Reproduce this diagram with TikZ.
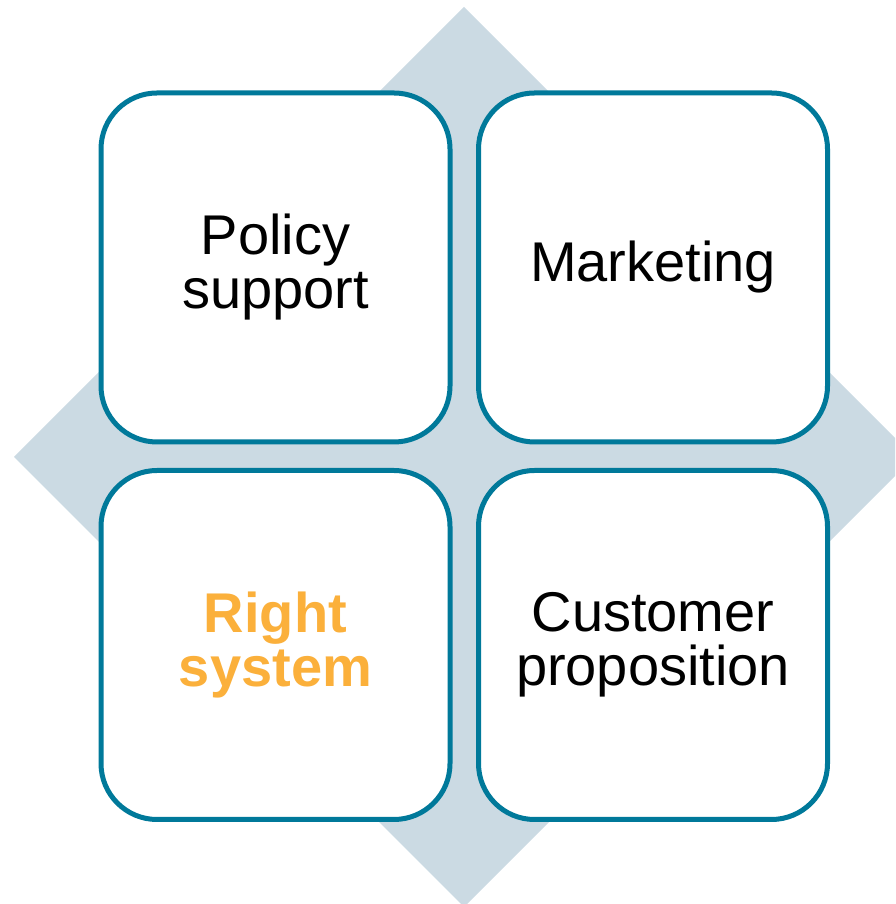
\documentclass[tikz,border=0pt]{standalone}
\usepackage{fontspec}
\setmainfont{Liberation Sans}
\usetikzlibrary{positioning}
\definecolor{boxline}{HTML}{00799A}
\definecolor{backdrop}{HTML}{CBDAE3}
\definecolor{highlight}{HTML}{FBB03B}
\tikzset{
  quarter/.style={draw=boxline,line width=5pt,fill=white,rounded corners=56pt,
    minimum width=349pt,minimum height=349pt,align=center,
    font=\fontsize{56}{54}\selectfont},
}

\begin{document}
\begin{tikzpicture}[x=1pt,y=1pt,node distance=23.5pt]
  % Fix the page to the picture size
  \useasboundingbox (0,0) rectangle (895,904);
  \clip (0,0) rectangle (895,904);
  % The diamond behind the boxes
  \coordinate (centre) at (464,447);
  \fill[backdrop] (centre) ++(0,450) -- ++(-450,-450) -- ++(450,-450)
    -- ++(450,450) -- cycle;
  % Place the four boxes
  \node[quarter] (policy) at (275.5,636.5) {Policy\\support};
  \node[quarter,right=of policy] (marketing) {Marketing};
  \node[quarter,below=of policy] (system)
    {\textcolor{highlight}{\bfseries Right}\\\textcolor{highlight}{\bfseries system}};
  \node[quarter,right=of system] (customer) {Customer\\proposition};
\end{tikzpicture}
\end{document}
